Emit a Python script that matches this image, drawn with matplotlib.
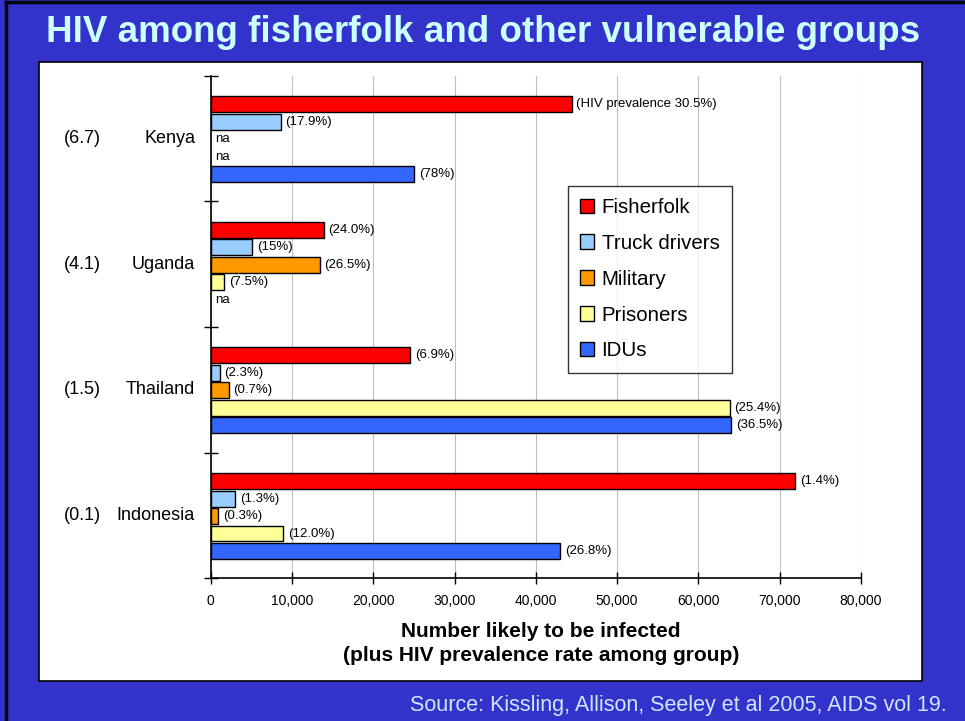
import matplotlib
matplotlib.use("Agg")
import matplotlib.pyplot as plt
from matplotlib.patches import Rectangle, Patch
from matplotlib.lines import Line2D

plt.rcParams["font.family"] = ["Liberation Sans", "DejaVu Sans"]

# data
countries = ["Kenya", "Uganda", "Thailand", "Indonesia"]
country_prev = ["(6.7)", "(4.1)", "(1.5)", "(0.1)"]
groups = ["Fisherfolk", "Truck drivers", "Military", "Prisoners", "IDUs"]
colors = ["#FF0000", "#99CCFF", "#FF9900", "#FFFF99", "#3366FF"]

fisherfolk = [44400, 13900, 24500, 71900]
truck_drivers = [8600, 5100, 1100, 3000]
military = [None, 13400, 2200, 900]
prisoners = [None, 1650, 63850, 8950]
idus = [25000, None, 64050, 42950]

fisherfolk_lbl = ["(HIV prevalence 30.5%)", "(24.0%)", "(6.9%)", "(1.4%)"]
truck_lbl = ["(17.9%)", "(15%)", "(2.3%)", "(1.3%)"]
military_lbl = ["na", "(26.5%)", "(0.7%)", "(0.3%)"]
prisoners_lbl = ["na", "(7.5%)", "(25.4%)", "(12.0%)"]
idus_lbl = ["(78%)", "na", "(36.5%)", "(26.8%)"]

xticks = [0, 10000, 20000, 30000, 40000, 50000, 60000, 70000, 80000]

series = [fisherfolk, truck_drivers, military, prisoners, idus]
labels = [fisherfolk_lbl, truck_lbl, military_lbl, prisoners_lbl, idus_lbl]

W, H = 965, 721
fig = plt.figure(figsize=(W / 100, H / 100), dpi=100)
fig.patch.set_facecolor("#3333CC")

# white panel and little black edge on left/top
fig.patches.append(Rectangle((39 / W, 1 - 681 / H), (922 - 39) / W, (681 - 62) / H,
                             transform=fig.transFigure, facecolor="white",
                             edgecolor="black", linewidth=1.2, zorder=-10))
fig.lines.append(Line2D([6 / W, 6 / W], [0, 1 - 2 / H], transform=fig.transFigure,
                        color="black", linewidth=2.5, zorder=-10))
fig.lines.append(Line2D([6 / W, 1], [1 - 2 / H, 1 - 2 / H], transform=fig.transFigure,
                        color="black", linewidth=2.5, zorder=-10))

ax = fig.add_axes([210.7 / W, 1 - 578.3 / H, 650.3 / W, (578.3 - 75.7) / H])
ax.set_facecolor("none")

pitch = 0.139
bar_h = 0.127
for k, (vals, lbls, col) in enumerate(zip(series, labels, colors)):
    ys = [i + 0.5045 + (k - 2) * pitch for i in range(len(countries))]
    w = [v if v is not None else 0 for v in vals]
    ec = ["black" if v is not None else "none" for v in vals]
    bars = ax.barh(ys, w, height=bar_h, color=col, edgecolor=ec, linewidth=1.0,
                   zorder=3)
    ax.bar_label(bars, labels=lbls, padding=3.5, fontsize=9.5, zorder=4)

ax.set_xlim(0, 80000)
ax.set_ylim(4, 0)
ax.set_xticks(xticks)
ax.set_xticklabels([f"{x:,}" for x in xticks], fontsize=10)
ax.set_yticks([0, 1, 2, 3, 4])
ax.set_yticklabels([])
ax.tick_params(axis="x", direction="inout", length=8, width=1, pad=7)
ax.tick_params(axis="y", direction="inout", length=10, width=1)
ax.xaxis.grid(True, color="#C0C0C0", linewidth=0.8, zorder=0)
ax.set_axisbelow(True)
for s in ["top", "right"]:
    ax.spines[s].set_visible(False)
for s in ["left", "bottom"]:
    ax.spines[s].set_linewidth(1.2)

for i, (c, p) in enumerate(zip(countries, country_prev)):
    ax.text(-0.024, i + 0.5, c, transform=ax.get_yaxis_transform(), ha="right",
            va="center", fontsize=13)
    ax.text(-0.198, i + 0.5, p, transform=ax.get_yaxis_transform(), ha="center",
            va="center", fontsize=13)

handles = [Patch(facecolor=c, edgecolor="black", linewidth=1.0) for c in colors]
leg = ax.legend(handles, groups, loc="upper left",
                bbox_to_anchor=(567.7 / W, 1 - 185.7 / H),
                bbox_transform=fig.transFigure, fontsize=14.8, frameon=True,
                fancybox=False, borderaxespad=0, handlelength=0.7, handleheight=0.7,
                handletextpad=0.35, labelspacing=0.82, borderpad=0.6)
leg.get_frame().set_edgecolor("black")
leg.get_frame().set_linewidth(1.0)

fig.text(541 / W, 1 - 643.5 / H,
         "Number likely to be infected\n(plus HIV prevalence rate among group)",
         ha="center", va="center", fontsize=15, fontweight="bold", linespacing=1.35)

fig.text(483 / W, 1 - 33 / H, "HIV among fisherfolk and other vulnerable groups",
         ha="center", va="center", fontsize=26.5, fontweight="bold", color="#CCFFFF")
fig.text(947 / W, 1 - 705 / H, "Source: Kissling, Allison, Seeley et al 2005, AIDS vol 19.",
         ha="right", va="center", fontsize=15.5, color="#CCE8FF")

fig.savefig("out.png", dpi=100, facecolor=fig.get_facecolor())
